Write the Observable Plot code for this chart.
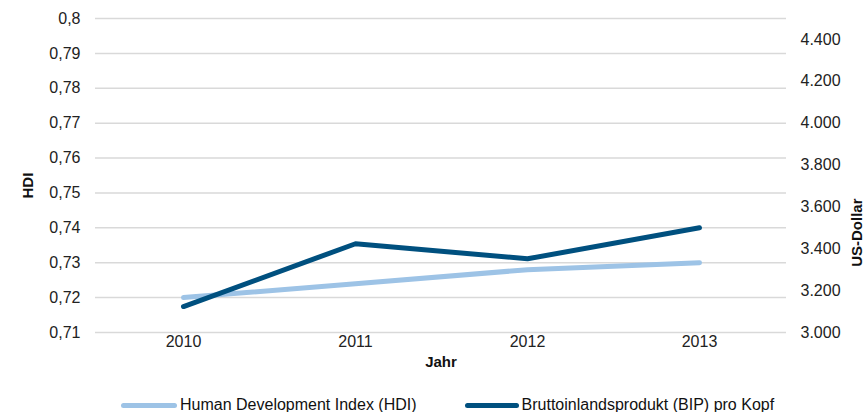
<!DOCTYPE html>
<html>
<head>
<meta charset="utf-8">
<script src="https://cdn.jsdelivr.net/npm/d3@7"></script>
<script src="https://cdn.jsdelivr.net/npm/@observablehq/plot@0.6"></script>
<style>
  html, body { margin: 0; padding: 0; background: #fff; }
  body { width: 868px; height: 412px; overflow: hidden; font-family: "Liberation Sans", Arial, sans-serif; }
  #legend { position: absolute; left: 121px; top: 396px; height: 18px; display: flex; align-items: center; font-size: 16px; line-height: 18px; color: #111; }
  .item { display: flex; align-items: center; }
  .sw { display: inline-block; width: 56px; height: 5px; border-radius: 3px; margin-right: 3px; }
</style>
</head>
<body>
<div id="chart"></div>
<div id="legend"></div>
<script>
const years = ["2010", "2011", "2012", "2013"];
const hdiValues = [0.720, 0.724, 0.728, 0.730];
const gdpValues = [3124, 3424, 3352, 3500];
const hdiTicks = [0.71, 0.72, 0.73, 0.74, 0.75, 0.76, 0.77, 0.78, 0.79, 0.80];
const gdpTicks = [3000, 3200, 3400, 3600, 3800, 4000, 4200, 4400];
const seriesNames = ["Human Development Index (HDI)", "Bruttoinlandsprodukt (BIP) pro Kopf"];
const colors = ["#9DC3E6", "#00507F"];

const hdiDomain = [0.71, 0.80];
const gdpDomain = [3000, 4500];
const toHdi = d3.scaleLinear().domain(gdpDomain).range(hdiDomain);

const de = d3.formatLocale({decimal: ",", thousands: ".", grouping: [3], currency: ["", " €"]});
const fmtGdp = de.format(",.0f");
const fmtHdi = d => String(+(+d).toFixed(2)).replace(".", ",");

const data = years.map((y, i) => ({year: y, hdi: hdiValues[i], gdp: gdpValues[i]}));

const chart = Plot.plot({
  width: 868,
  height: 380,
  marginLeft: 95,
  marginRight: 82,
  marginTop: 18,
  marginBottom: 48,
  style: {fontFamily: "Liberation Sans, Arial, sans-serif", fontSize: "16px", color: "#222", background: "#fff"},
  x: {type: "point", domain: years, padding: 0.5, label: null},
  y: {domain: hdiDomain, label: null},
  marks: [
    Plot.gridY(hdiTicks, {stroke: "#d9d9d9", strokeOpacity: 1, strokeWidth: 1.5}),
    Plot.axisY(hdiTicks, {anchor: "left", tickSize: 0, tickPadding: 15, tickFormat: fmtHdi, fontSize: 16, label: null}),
    Plot.axisY(gdpTicks.map(v => toHdi(v)), {anchor: "right", tickSize: 0, tickPadding: 14, tickFormat: d => fmtGdp(toHdi.invert(d)), fontSize: 16, label: null}),
    Plot.axisX(years, {anchor: "bottom", tickSize: 0, tickPadding: 3, fontSize: 16, label: null}),
    Plot.line(data, {x: "year", y: "hdi", stroke: colors[0], strokeWidth: 5, strokeLinecap: "round", strokeLinejoin: "round"}),
    Plot.line(data, {x: "year", y: d => toHdi(d.gdp), stroke: colors[1], strokeWidth: 5, strokeLinecap: "round", strokeLinejoin: "round"}),
    Plot.text(["Jahr"], {frameAnchor: "bottom", dy: 34, fontWeight: "bold", fontSize: 15, fill: "#111"}),
    Plot.text(["HDI"], {frameAnchor: "left", dx: -67, dy: 23, rotate: -90, fontWeight: "bold", fontSize: 15, fill: "#111"}),
    Plot.text(["US-Dollar"], {frameAnchor: "right", dx: 71, dy: 23, rotate: -90, fontWeight: "bold", fontSize: 15, fill: "#111"})
  ]
});
document.getElementById("chart").appendChild(chart);

const legend = document.getElementById("legend");
seriesNames.forEach((name, i) => {
  const item = document.createElement("div");
  item.className = "item";
  if (i > 0) item.style.marginLeft = "48px";
  const sw = document.createElement("span");
  sw.className = "sw";
  sw.style.background = colors[i];
  if (i > 0) sw.style.width = "54px";
  item.appendChild(sw);
  const t = document.createElement("span");
  t.textContent = name;
  item.appendChild(t);
  legend.appendChild(item);
});
</script>
</body>
</html>
